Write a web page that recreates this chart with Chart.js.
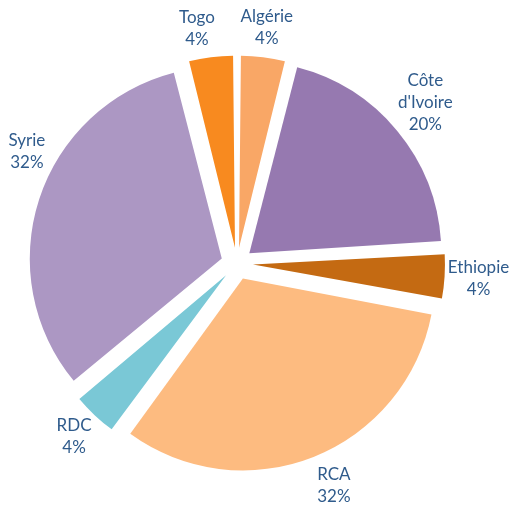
<!DOCTYPE html>
<html>
<head>
<meta charset="utf-8">
<script src="https://cdn.jsdelivr.net/npm/chart.js@4"></script>
<style>
  html, body { margin: 0; padding: 0; background: #fff; }
  #wrap { width: 512px; height: 510px; }
</style>
</head>
<body>
<div id="wrap"><canvas id="chart" width="512" height="510"></canvas></div>
<script>
let categories = ['Algérie', "Côte d'Ivoire", 'Ethiopie', 'RCA', 'RDC', 'Syrie', 'Togo'];
let shares = [4, 20, 4, 32, 4, 32, 4];
let sliceColors = ['#F9A766', '#9679B0', '#C46A12', '#FDBB80', '#7AC8D6', '#AC97C3', '#F88A1F'];

const explode = 64; // chart.js moves a slice by offset / 4
const pieRadius = 192;

// keep exploded slices at the same radius (chart.js grows small ones)
const flatRadius = {
    id: 'flatRadius',
    afterDatasetsUpdate(chart) {
        let arcs = chart.getDatasetMeta(0).data;
        arcs.forEach(arc => {
            let circ = arc.endAngle - arc.startAngle;
            let fix = 1 - Math.sin(Math.min(Math.PI, circ));
            arc.outerRadius = pieRadius - (explode / 4) * fix;
        });
    }
};

const outsideLabels = {
    id: 'outsideLabels',
    afterDatasetsDraw(chart, args, opts) {
        let ctx = chart.ctx;
        let arcs = chart.getDatasetMeta(0).data;
        ctx.save();
        ctx.font = '17px Lato';
        ctx.fillStyle = '#2F5B8C';
        ctx.textAlign = 'center';
        ctx.textBaseline = 'middle';
        arcs.forEach((arc, i) => {
            let mid = (arc.startAngle + arc.endAngle) / 2 + (opts.nudge[i] || 0) * Math.PI / 180;
            let dist = opts.distance + (opts.extra[i] || 0);
            let x = arc.x + Math.cos(mid) * dist;
            let y = arc.y + Math.sin(mid) * dist;
            let lines = categories[i].split(' ');
            lines.push(shares[i] + '%');
            let top = y - (lines.length - 1) * opts.lineHeight / 2;
            lines.forEach((line, k) => ctx.fillText(line, x, top + k * opts.lineHeight));
        });
        ctx.restore();
    }
};

new Chart(document.getElementById('chart').getContext('2d'), {
    type: 'pie',
    data: {
        labels: categories,
        datasets: [{
            data: shares,
            backgroundColor: sliceColors,
            borderWidth: 0,
            offset: explode
        }]
    },
    options: {
        responsive: false,
        animation: false,
        radius: pieRadius,
        layout: { padding: { left: 0, right: 38, top: 17, bottom: 0 } },
        plugins: {
            legend: { display: false },
            tooltip: { enabled: false },
            outsideLabels: {
                distance: 238, lineHeight: 22,
                nudge: { 1: -1, 3: -2, 5: 10, 6: -2.5 },
                extra: { 1: 10, 2: 4, 3: 4 }
            }
        }
    },
    plugins: [flatRadius, outsideLabels]
});
</script>
</body>
</html>
